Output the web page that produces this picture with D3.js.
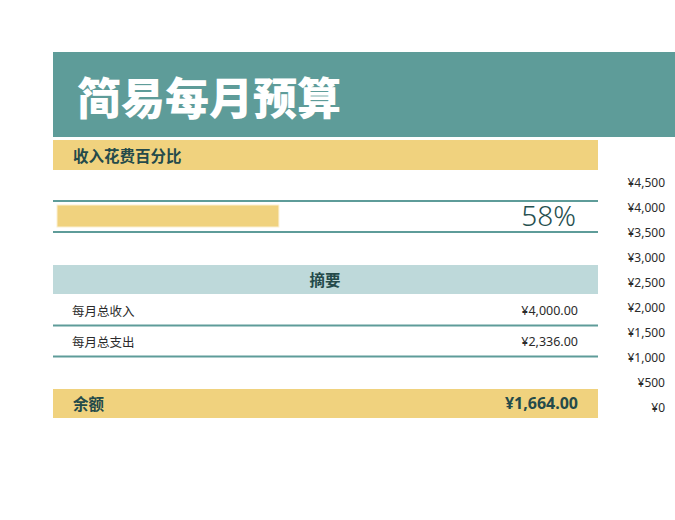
<!DOCTYPE html>
<html>
<head>
<meta charset="utf-8">
<script src="https://cdn.jsdelivr.net/npm/d3@7"></script>
<style>
  body { margin: 0; background: #fff; }
  svg { display: block; }
  text { font-family: "Noto Sans CJK SC", "Noto Sans", sans-serif; }
  .num { font-family: "Noto Sans", "Open Sans", sans-serif; }
</style>
</head>
<body>
<div id="chart"></div>
<script>
  // chart data
  var title = "简易每月预算";
  var percentTitle = "收入花费百分比";
  var summaryTitle = "摘要";
  var summaryLabels = ["每月总收入", "每月总支出"];
  var summaryValues = [4000, 2336];
  var balanceLabel = "余额";
  var balanceValue = [1664];
  var axisTicks = [0, 500, 1000, 1500, 2000, 2500, 3000, 3500, 4000, 4500];

  var teal = "#5e9c99", yellow = "#f0d27e", pale = "#bed9da", ink = "#244a4a", txt = "#2b2b2b";

  var svg = d3.select("#chart").append("svg")
    .attr("width", 675)
    .attr("height", 520);

  var money = function (d) { return "¥" + d3.format(",.2f")(d); };

  // title banner
  svg.append("rect").attr("x", 53).attr("y", 52).attr("width", 622).attr("height", 85).attr("fill", teal);
  svg.append("text")
    .attr("x", 77).attr("y", 115)
    .style("font-size", "44px").style("font-weight", "900")
    .attr("fill", "#fff")
    .text(title);

  // percent section
  svg.append("rect").attr("x", 53).attr("y", 140).attr("width", 545).attr("height", 30).attr("fill", yellow);
  svg.append("text")
    .attr("x", 73).attr("y", 155).attr("dominant-baseline", "central")
    .style("font-size", "15.5px").style("font-weight", "700")
    .attr("fill", ink)
    .text(percentTitle);

  [201, 232].forEach(function (y) {
    svg.append("line").attr("x1", 53).attr("x2", 598).attr("y1", y).attr("y2", y)
      .attr("stroke", teal).attr("stroke-width", 2);
  });

  var pct = summaryValues[1] / summaryValues[0];
  var x = d3.scaleLinear().domain([0, 1]).range([57, 437]);
  svg.append("rect")
    .attr("x", x(0)).attr("y", 205)
    .attr("width", x(pct) - x(0)).attr("height", 22)
    .attr("fill", yellow).attr("stroke", "#fbf0d2").attr("stroke-width", 1);

  svg.append("text").attr("class", "num")
    .attr("x", 576).attr("y", 226)
    .attr("text-anchor", "end")
    .style("font-size", "28px").style("font-weight", "300")
    .attr("fill", "#264f4f")
    .text(d3.format(".0%")(pct));

  // summary section
  svg.append("rect").attr("x", 53).attr("y", 265).attr("width", 545).attr("height", 29).attr("fill", pale);
  svg.append("text")
    .attr("x", 325).attr("y", 279).attr("dominant-baseline", "central")
    .attr("text-anchor", "middle")
    .style("font-size", "15.5px").style("font-weight", "700")
    .attr("fill", ink)
    .text(summaryTitle);

  var rowY = d3.scalePoint().domain(summaryLabels).range([310, 341]);
  var rows = svg.selectAll("g.row").data(summaryLabels).enter().append("g").attr("class", "row");
  rows.append("text")
    .attr("x", 72).attr("y", function (d) { return rowY(d); })
    .attr("dominant-baseline", "central")
    .style("font-size", "12.5px").attr("fill", txt)
    .text(function (d) { return d; });
  rows.append("text").attr("class", "num")
    .attr("x", 578).attr("y", function (d) { return rowY(d); })
    .attr("dominant-baseline", "central").attr("text-anchor", "end")
    .style("font-size", "12.5px").attr("fill", txt)
    .text(function (d, i) { return money(summaryValues[i]); });
  rows.append("line")
    .attr("x1", 53).attr("x2", 598)
    .attr("y1", function (d) { return rowY(d) + 15.5; })
    .attr("y2", function (d) { return rowY(d) + 15.5; })
    .attr("stroke", teal).attr("stroke-width", 2);

  // balance
  svg.append("rect").attr("x", 53).attr("y", 389).attr("width", 545).attr("height", 29).attr("fill", yellow);
  svg.append("text")
    .attr("x", 73).attr("y", 403).attr("dominant-baseline", "central")
    .style("font-size", "15.5px").style("font-weight", "700")
    .attr("fill", ink)
    .text(balanceLabel);
  svg.append("text").attr("class", "num")
    .attr("x", 578).attr("y", 403).attr("dominant-baseline", "central")
    .attr("text-anchor", "end")
    .style("font-size", "16px").style("font-weight", "700")
    .attr("fill", ink)
    .text(money(balanceValue[0]));

  // value axis on the right
  var y = d3.scaleLinear().domain([0, 4500]).range([408, 183]);
  var axis = svg.append("g")
    .attr("transform", "translate(665,0)")
    .call(d3.axisLeft(y).tickValues(axisTicks).tickSize(0).tickPadding(0)
      .tickFormat(function (d) { return "¥" + d3.format(",")(d); }));
  axis.select(".domain").remove();
  axis.selectAll("text")
    .attr("class", "num")
    .style("font-family", "'Noto Sans', sans-serif")
    .style("font-size", "12px")
    .attr("fill", txt);
</script>
</body>
</html>
